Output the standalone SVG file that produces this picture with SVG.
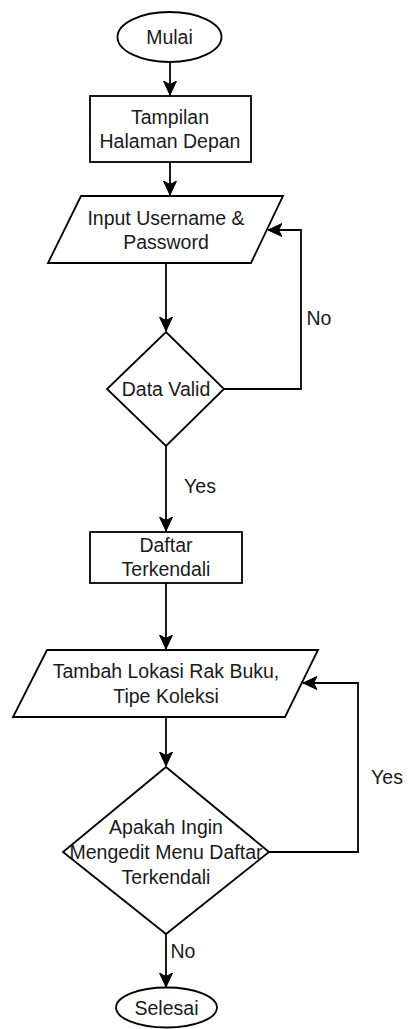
<svg xmlns="http://www.w3.org/2000/svg" width="408" height="1029" viewBox="0 0 408 1029">
  <style>
    .shape { fill: #ffffff; stroke: #000000; stroke-width: 1.8; }
    .edge { fill: none; stroke: #000000; stroke-width: 1.8; }
    text { font-family: "Liberation Sans", Arial, Helvetica, sans-serif; font-size: 19.5px; fill: #1a1a1a; text-anchor: middle; dominant-baseline: central; }
  </style>
  <defs>
    <marker id="arrow" markerUnits="userSpaceOnUse" viewBox="-14 -7 15 14" refX="0" refY="0" markerWidth="15" markerHeight="14" orient="auto">
      <path d="M0,0 L-14,-6.5 L-10.5,0 L-14,6.5 Z" fill="#000000" stroke="#000000" stroke-width="1"/>
    </marker>
  </defs>
  <rect width="408" height="1029" fill="#ffffff"/>

  <!-- connectors -->
  <g id="connectors">
    <path class="edge" d="M170,62 V95" marker-end="url(#arrow)"/>
    <path class="edge" d="M170,162 V195" marker-end="url(#arrow)"/>
    <path class="edge" d="M166,263 V331" marker-end="url(#arrow)"/>
    <path class="edge" d="M224,389 H301 V230 H268" marker-end="url(#arrow)"/>
    <path class="edge" d="M166,446 V531" marker-end="url(#arrow)"/>
    <path class="edge" d="M166,583 V649" marker-end="url(#arrow)"/>
    <path class="edge" d="M166,717 V766" marker-end="url(#arrow)"/>
    <path class="edge" d="M269,852 H358 V683 H303" marker-end="url(#arrow)"/>
    <path class="edge" d="M166,934 V987" marker-end="url(#arrow)"/>
    <text x="319" y="318">No</text>
    <text x="200" y="486">Yes</text>
    <text x="387" y="777">Yes</text>
    <text x="183" y="951">No</text>
  </g>

  <g id="mulai">
    <ellipse class="shape" cx="169.5" cy="37" rx="52" ry="25"/>
    <text x="169.5" y="37">Mulai</text>
  </g>

  <g id="tampilan">
    <rect class="shape" x="90" y="96" width="161" height="66"/>
    <text x="170" y="117">Tampilan</text>
    <text x="170" y="141">Halaman Depan</text>
  </g>

  <g id="input-login">
    <polygon class="shape" points="81,196 283,196 251,263 48,263"/>
    <text x="166" y="218">Input Username &amp;</text>
    <text x="166" y="242">Password</text>
  </g>

  <g id="data-valid">
    <polygon class="shape" points="166,332 224,389 166,446 107,389"/>
    <text x="166" y="389">Data Valid</text>
  </g>

  <g id="daftar-terkendali">
    <rect class="shape" x="90" y="532" width="152" height="51"/>
    <text x="166" y="545">Daftar</text>
    <text x="166" y="569">Terkendali</text>
  </g>

  <g id="tambah-lokasi">
    <polygon class="shape" points="47,650 318,650 285,717 13,717"/>
    <text x="166" y="671">Tambah Lokasi Rak Buku,</text>
    <text x="166" y="696">Tipe Koleksi</text>
  </g>

  <g id="edit-menu">
    <polygon class="shape" points="166,767 269,852 166,934 63,852"/>
    <text x="166" y="827">Apakah Ingin</text>
    <text x="166" y="852">Mengedit Menu Daftar</text>
    <text x="166" y="877">Terkendali</text>
  </g>

  <g id="selesai">
    <ellipse class="shape" cx="166.5" cy="1007.5" rx="50.5" ry="20"/>
    <text x="166.5" y="1008">Selesai</text>
  </g>
</svg>
